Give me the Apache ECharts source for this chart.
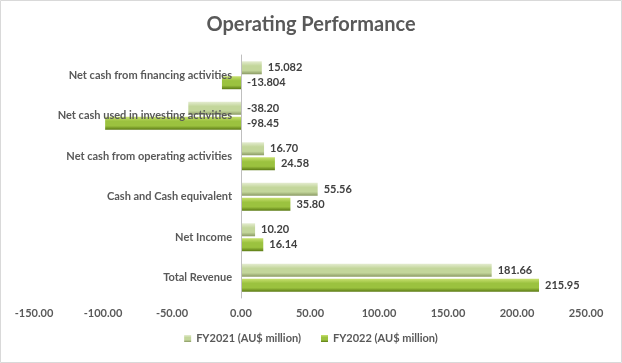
<!DOCTYPE html>
<html><head><meta charset="utf-8">
<script src="https://cdn.jsdelivr.net/npm/echarts@6/dist/echarts.min.js"></script>
<style>html,body{margin:0;padding:0;background:#fff}#c{width:622px;height:363px}</style>
</head><body><div id="c"></div>
<script>
const categories = ['Total Revenue','Net Income','Cash and Cash equivalent','Net cash from operating activities','Net cash used in investing activities','Net cash from financing activities'];
const fy2021 = [181.66, 10.20, 55.56, 16.70, -38.20, 15.082];
const fy2022 = [215.95, 16.14, 35.80, 24.58, -98.45, -13.804];
const seriesNames = ['FY2021 (AU$ million)', 'FY2022 (AU$ million)'];
const xTicks = {min: -150, max: 250, interval: 50};

const FONT = 'Lato';
const GRID = {left:34, right:36, top:55, height:243};
const plotW = 622 - GRID.left - GRID.right;
const zeroOffset = plotW * (0 - xTicks.min) / (xTicks.max - xTicks.min);
function fmt(v){
  const s = String(v);
  const dec = s.indexOf('.') >= 0 ? s.split('.')[1].length : 0;
  return dec > 2 ? s : v.toFixed(2);
}
function grad(top, mid, bot){
  return new echarts.graphic.LinearGradient(0,0,0,1,[
    {offset:0,color:top},{offset:0.35,color:mid},{offset:0.7,color:mid},{offset:1,color:bot}]);
}
const chart = echarts.init(document.getElementById('c'));
const labelCfg = {show:true, position:'right', distance:6, color:'#404040', fontFamily:FONT, fontWeight:'bold', fontSize:11, formatter:p=>fmt(p.value)};
chart.setOption({
  animation:false,
  title:{text:'Operating Performance', left:'center', top:10, textStyle:{fontFamily:FONT, fontWeight:'bold', fontSize:20, color:'#595959'}},
  graphic:[{type:'rect', shape:{x:0.5,y:0.5,width:621,height:362}, style:{fill:'none', stroke:'#d9d9d9', lineWidth:1}, silent:true}],
  legend:{bottom:14, left:'center', itemWidth:7, itemHeight:7, itemGap:20, icon:'rect',
    data:seriesNames, textStyle:{fontFamily:FONT, fontWeight:'bold', fontSize:11, color:'#595959'}},
  grid:{left:GRID.left, right:GRID.right, top:GRID.top, height:GRID.height, containLabel:false, outerBoundsMode:'none'},
  xAxis:{type:'value', min:xTicks.min, max:xTicks.max, interval:xTicks.interval,
    axisLine:{show:false}, axisTick:{show:false}, splitLine:{show:false},
    axisLabel:{formatter:v=>v.toFixed(2), fontFamily:FONT, fontWeight:'bold', fontSize:11, color:'#595959', margin:10}},
  yAxis:{type:'category', data:categories, position:'left', offset:-zeroOffset, z:5,
    axisLine:{show:true, onZero:false, lineStyle:{color:'#bfbfbf'}}, axisTick:{show:false},
    axisLabel:{fontFamily:FONT, fontWeight:'bold', fontSize:11, color:'#595959', margin:9}},
  series:[
    {name:seriesNames[0], type:'bar', data:fy2021, barWidth:13, barGap:'15%',
      itemStyle:{color:grad('#e4ecd0','#c3d69b','#8a9963')}, label:labelCfg},
    {name:seriesNames[1], type:'bar', data:fy2022, barWidth:13,
      itemStyle:{color:grad('#c8e070','#9bc23f','#5b7a14')}, label:labelCfg}
  ]
});
</script></body></html>
